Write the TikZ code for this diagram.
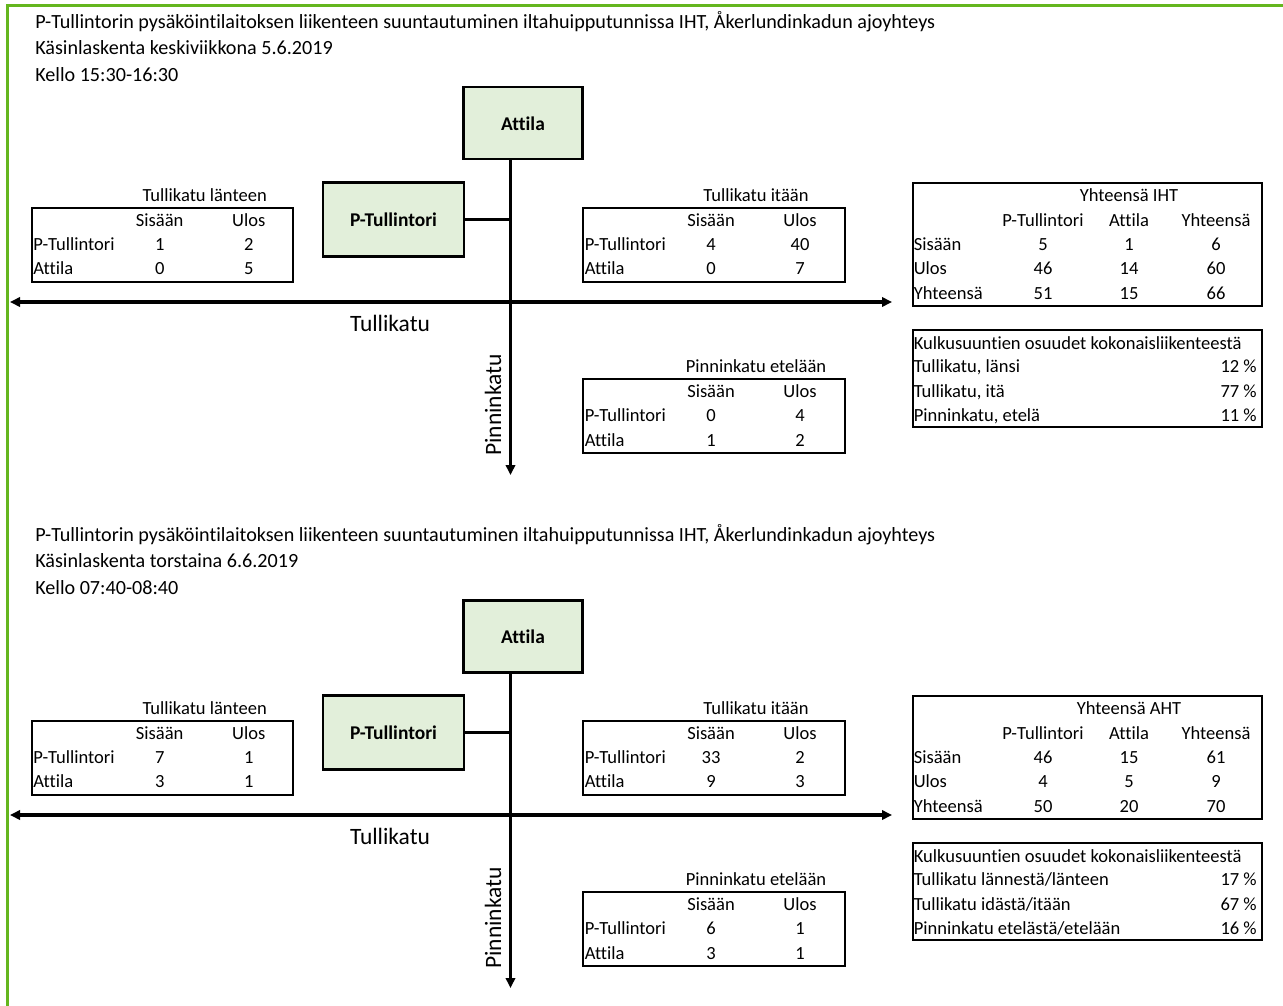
\documentclass[tikz,border=0pt]{standalone}
\usepackage{fontspec}
\setmainfont{Carlito}[Ligatures=NoCommon]
\usetikzlibrary{arrows.meta,calc}
\definecolor{boxgreen}{RGB}{226,239,218}
\definecolor{framegreen}{RGB}{100,182,30}
\tikzset{
  tx/.style={inner sep=0pt, font=\fontsize{13.9}{16}\selectfont, anchor=mid, yshift=-2.8pt},
  txl/.style={tx, anchor=mid west},
  txr/.style={tx, anchor=mid east},
  ttl/.style={inner sep=0pt, anchor=mid west, yshift=-2.8pt, font=\fontsize{15.1}{18}\selectfont},
  roadlbl/.style={inner sep=0pt, font=\fontsize{17.6}{20}\selectfont},
  tbox/.style={draw, line width=1.5pt, inner sep=0pt},
  place/.style={draw, line width=1.8pt, fill=boxgreen, inner sep=0pt, font=\fontsize{14.6}{17}\selectfont\bfseries},
  road/.style={line width=2.3pt, -{Triangle[length=7.5pt,width=7pt]}},
  road2/.style={line width=2.3pt, {Triangle[length=7.5pt,width=7pt]}-{Triangle[length=7.5pt,width=7pt]}},
  link/.style={line width=2.3pt},
  frame/.style={draw=framegreen, line width=1.7pt},
}
\newcommand\block[4]{%
  \node[ttl] (#1la) at (35,22+#2) {P-Tullintorin pysäköintilaitoksen liikenteen suuntautuminen iltahuipputunnissa IHT, Åkerlundinkadun ajoyhteys};
  \node[ttl] (#1lb) at (35,48+#2) {#3};
  \node[ttl] (#1lc) at (35,75+#2) {#4};
  \node[place, minimum width=0.75pt*119, minimum height=0.75pt*72] (#1att) at (523,123.3+#2) {Attila};
  \node[place, minimum width=0.75pt*141.5, minimum height=0.75pt*74] (#1pt) at (393.5,219.5+#2) {P-Tullintori};
  \coordinate (#1s) at (510.5,475+#2);
  \coordinate (#1w) at (10,302+#2);
  \coordinate (#1e) at (892,302+#2);
  \draw[road] (#1att.south -| #1s) -- (#1s);
  \draw[road2] (#1w) -- (#1e);
  \draw[link] (#1pt.east) -- (#1pt.east -| #1s);
  \node[roadlbl] (#1tk) at (390,323+#2) {Tullikatu};
  \node[roadlbl, rotate=90] (#1pk) at (493,405+#2) {Pinninkatu};
}
\newcommand\dirtab[8]{%
  \node[tbox, anchor=north west, minimum width=0.75pt*261.5, minimum height=0.75pt*74] (#1) at (#2,#3) {};
  \node[tx] (#1t) at (#2+174,#3-12) {#4};
  \node[tx] (#1hs) at (#2+129,#3+13) {Sisään};
  \node[tx] (#1hu) at (#2+218,#3+13) {Ulos};
  \node[txl] (#1ra) at (#2+2.5,#3+37) {P-Tullintori};
  \node[txl] (#1rb) at (#2+2.5,#3+61.5) {Attila};
  \node[tx] (#1va) at (#2+129,#3+37) {#5};
  \node[tx] (#1vb) at (#2+218,#3+37) {#6};
  \node[tx] (#1vc) at (#2+129,#3+61.5) {#7};
  \node[tx] (#1vd) at (#2+218,#3+61.5) {#8};
}
\newcommand\tottab[3]{%
  \node[tbox, anchor=north west, minimum width=0.75pt*349.5, minimum height=0.75pt*122.5] (#1) at (911.7,#2) {};
  \node[tx] (#1t) at (1129,#2+13) {#3};
  \node[tx] (#1ha) at (1043,#2+38) {P-Tullintori};
  \node[tx] (#1hb) at (1129,#2+38) {Attila};
  \node[tx] (#1hc) at (1216,#2+38) {Yhteensä};
}
\newcommand\totrow[6]{%
  \node[txl] (#1l) at (913.5,#2) {#3};
  \node[tx] (#1a) at (1043,#2) {#4};
  \node[tx] (#1b) at (1129,#2) {#5};
  \node[tx] (#1c) at (1216,#2) {#6};
}
\newcommand\sharetab[2]{%
  \node[tbox, anchor=north west, minimum width=0.75pt*349.5, minimum height=0.75pt*97] (#1) at (911.7,#2) {};
  \node[txl] (#1t) at (913.5,#2+13) {Kulkusuuntien osuudet kokonaisliikenteestä};
}
\newcommand\sharerow[4]{%
  \node[txl] (#1l) at (913.5,#2) {#3};
  \node[txr] (#1p) at (1257,#2) {#4};
}
\begin{document}
\begin{tikzpicture}[x=0.75pt,y=-0.75pt]
\useasboundingbox (0,0) rectangle (1283,1006);
\draw[frame] (7.5,1006) -- (7.5,5.6) -- (1283,5.6);

% ---------- block 1 ----------
\block{A}{0}{Käsinlaskenta keskiviikkona 5.6.2019}{Kello 15:30-16:30}
\dirtab{Aw}{30.7}{206.5}{Tullikatu länteen}{1}{2}{0}{5}
\dirtab{Ae}{582}{206.5}{Tullikatu itään}{4}{40}{0}{7}
\dirtab{As}{582}{378}{Pinninkatu etelään}{0}{4}{1}{2}
\tottab{At}{182}{Yhteensä IHT}
\totrow{Ata}{244}{Sisään}{5}{1}{6}
\totrow{Atb}{268}{Ulos}{46}{14}{60}
\totrow{Atc}{293}{Yhteensä}{51}{15}{66}
\sharetab{Ap}{329.3}
\sharerow{Apa}{366}{Tullikatu, länsi}{12 \%}
\sharerow{Apb}{390.5}{Tullikatu, itä}{77 \%}
\sharerow{Apc}{415}{Pinninkatu, etelä}{11 \%}

% ---------- block 2 ----------
\block{B}{513}{Käsinlaskenta torstaina 6.6.2019}{Kello 07:40-08:40}
\dirtab{Bw}{30.7}{719.5}{Tullikatu länteen}{7}{1}{3}{1}
\dirtab{Be}{582}{719.5}{Tullikatu itään}{33}{2}{9}{3}
\dirtab{Bs}{582}{891}{Pinninkatu etelään}{6}{1}{3}{1}
\tottab{Bt}{695}{Yhteensä AHT}
\totrow{Bta}{757}{Sisään}{46}{15}{61}
\totrow{Btb}{781}{Ulos}{4}{5}{9}
\totrow{Btc}{806}{Yhteensä}{50}{20}{70}
\sharetab{Bp}{842.3}
\sharerow{Bpa}{879}{Tullikatu lännestä/länteen}{17 \%}
\sharerow{Bpb}{903.5}{Tullikatu idästä/itään}{67 \%}
\sharerow{Bpc}{928}{Pinninkatu etelästä/etelään}{16 \%}
\end{tikzpicture}
\end{document}
